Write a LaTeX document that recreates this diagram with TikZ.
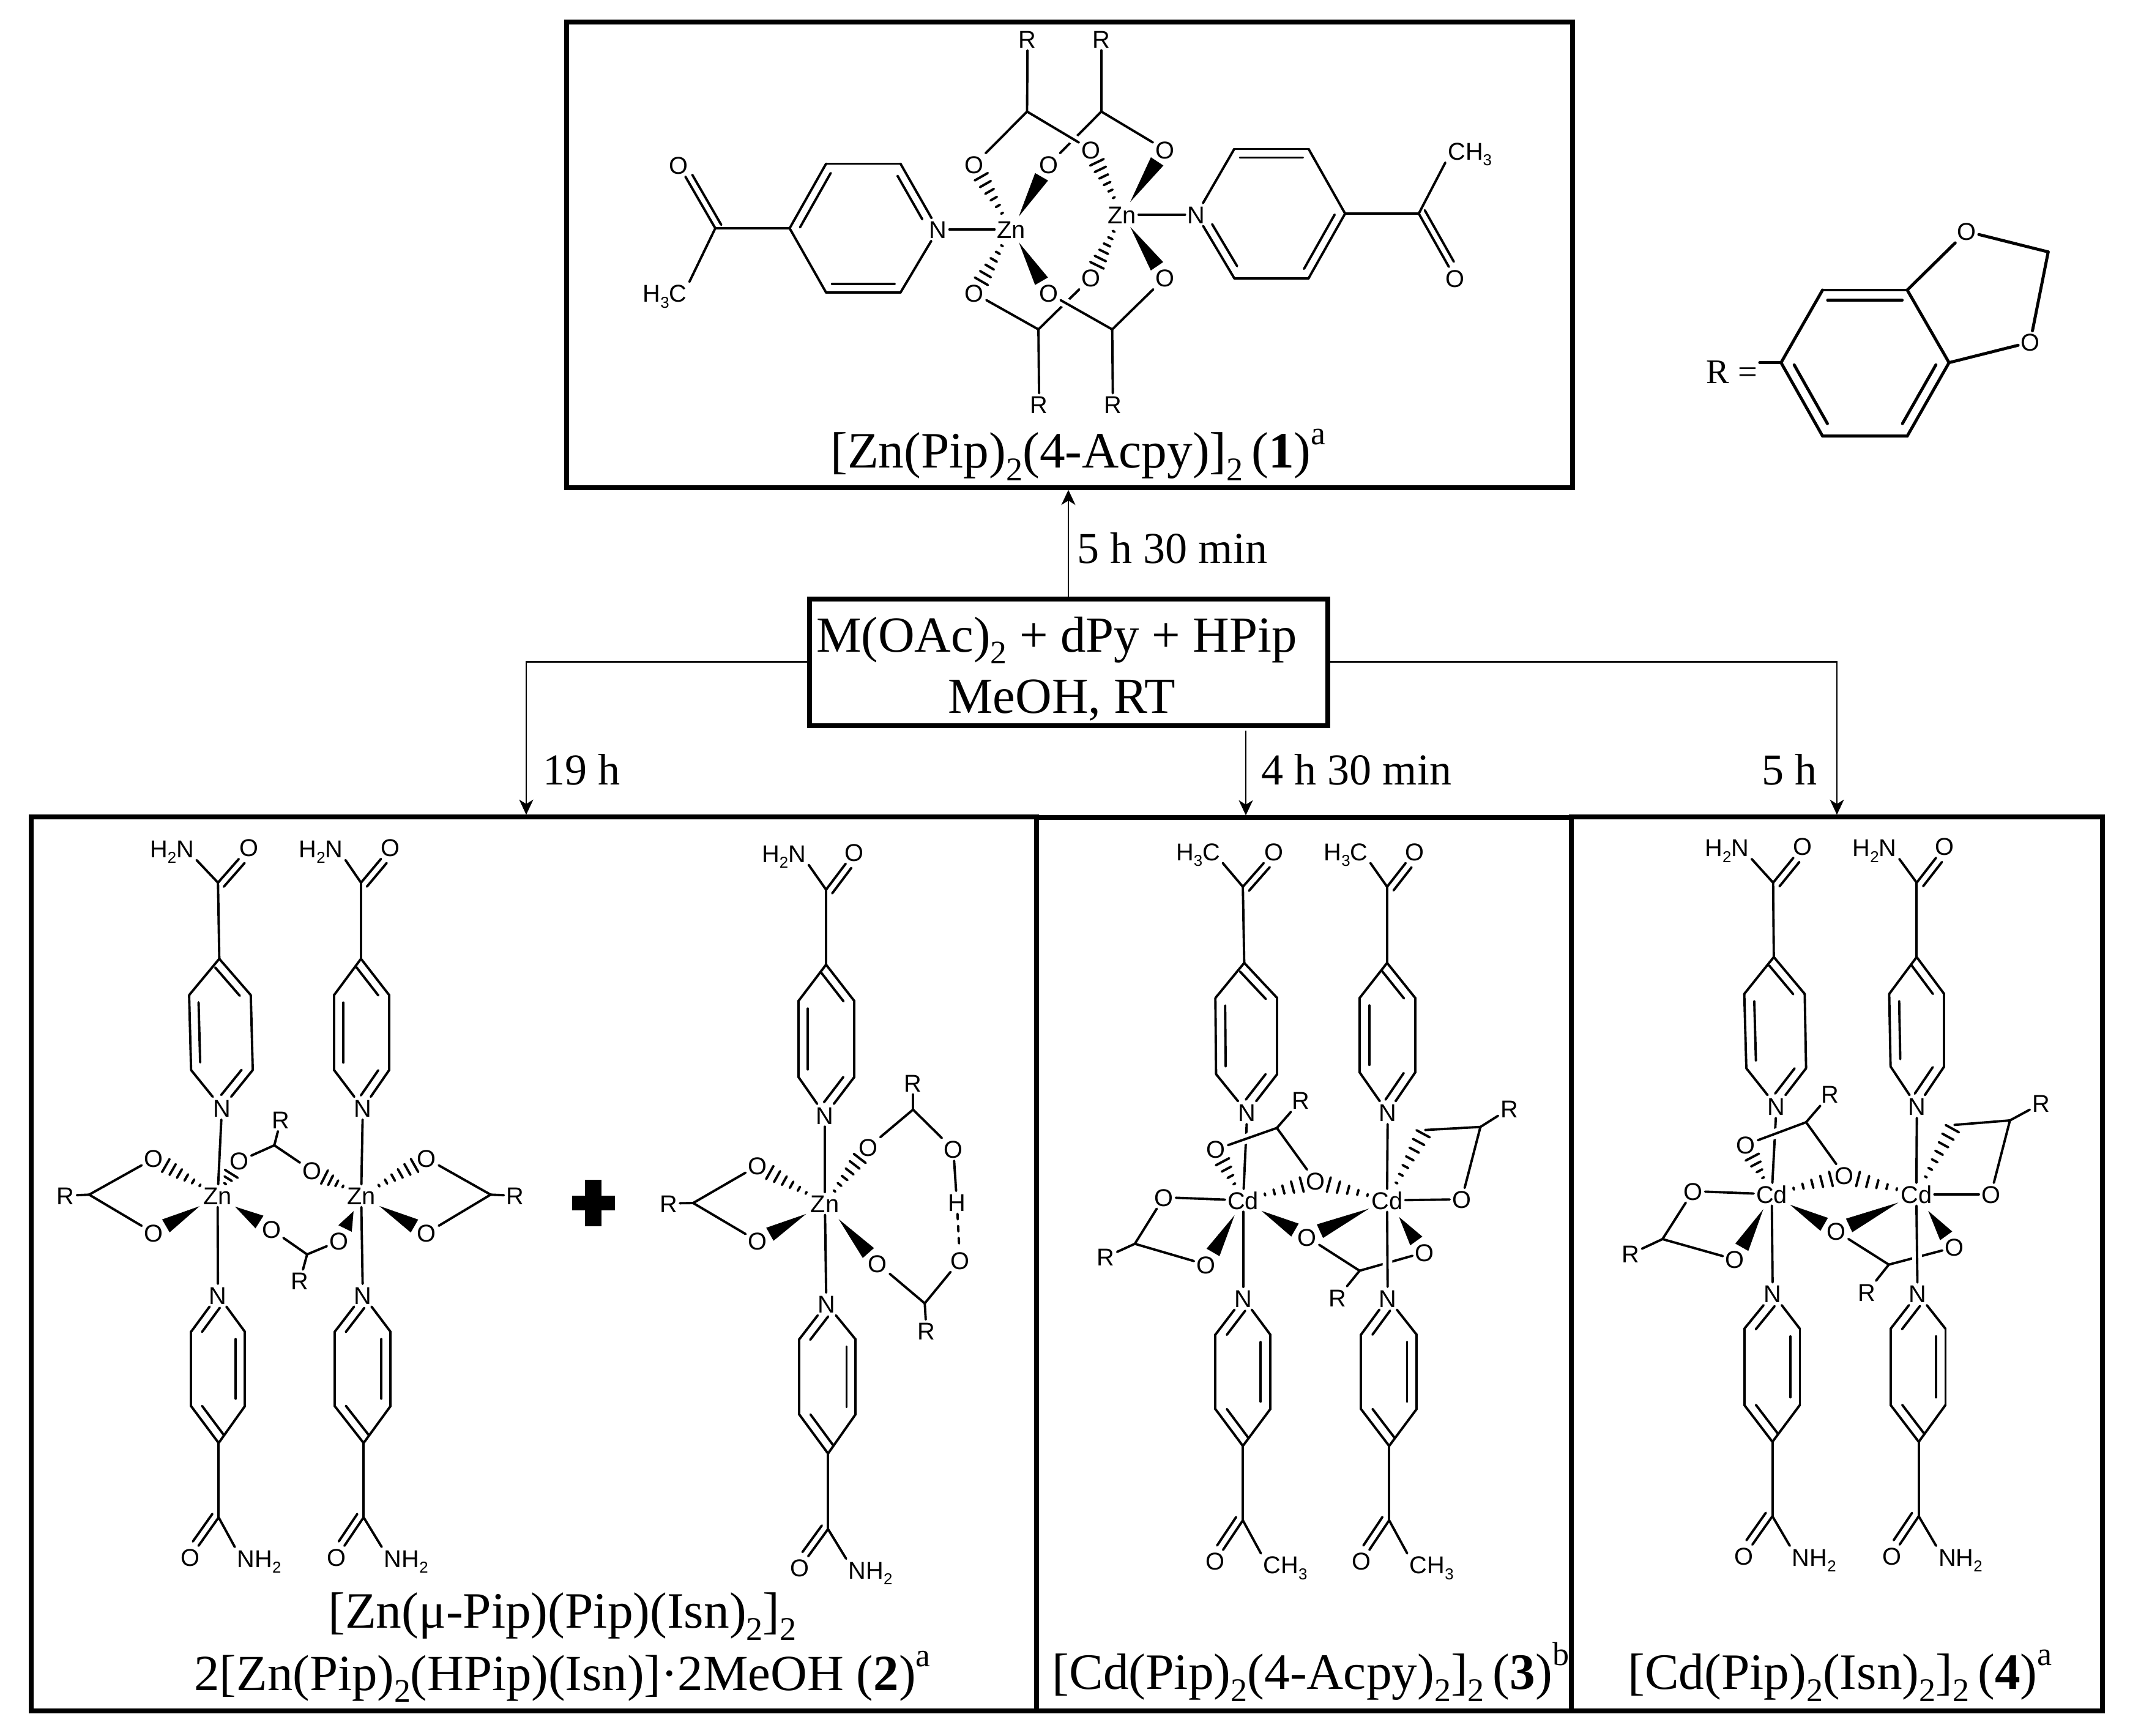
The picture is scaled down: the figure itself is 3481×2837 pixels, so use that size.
\documentclass[tikz,border=0pt]{standalone}
\usepackage{fontspec}
\usepackage{graphicx}
\setmainfont{Liberation Serif}
\newfontfamily\atomfam{Liberation Sans}
\usetikzlibrary{calc,arrows.meta}
\newcommand\lsub[1]{\raisebox{-.24em}{\scalebox{.65}{#1}}}
\newcommand\lsup[1]{\raisebox{.46em}{\scalebox{.65}{#1}}}
\newcommand\atomfont{\atomfam\fontsize{11.3}{13}\selectfont}
\newcommand\titlefont{\fontsize{23.7}{28}\selectfont}
\newcommand\flowfont{\fontsize{20.5}{24}\selectfont}
\newcommand\dblgap{4pt}
\tikzset{
  x=0.01cm,y=-0.01cm,
  zoomed/.style n args={4}{shift={(#1,#2)},xscale=#3,yscale=#4},
  bond/.style={line width=1.1pt,line cap=round},
  thickbond/.style={line width=1.4pt,line cap=round},
  atom/.style={font=\atomfont,inner sep=1pt,text height=8.2pt,text depth=0pt},
  boxframe/.style={draw,line width=2.2pt,inner sep=0pt,outer sep=0pt},
  halo/.style={white,line width=4.5pt},
  flow/.style={line width=.8pt},
  arr/.style={flow,shorten >=1pt,-{Stealth[length=7pt,width=6.5pt,inset=2pt]}},
  titletext/.style={font=\titlefont,inner sep=0pt,anchor=base},
  flowtext/.style={font=\flowfont,inner sep=0pt,anchor=base west},
}
\newcommand\atm[3]{\node[atom] (#1) at (#2) {#3};}
\newcommand\vtx[2]{\coordinate (#1) at (#2);}
\newcommand\boxnode[5]{\node[boxframe,minimum width={(#4-#2)*0.01cm},minimum height={(#5-#3)*0.01cm}] (#1) at ({(#2+#4)/2},{(#3+#5)/2}) {};}
\newcommand\bonds[1]{\foreach \p/\q in {#1}{\draw[bond] (\p) -- (\q);}}
\newcommand\halob[2]{\draw[halo] (#1) -- (#2);\draw[bond] (#1) -- (#2);}
% inner line of a double bond; a->b runs clockwise round the ring
\newcommand\innerb[4]{%
  \coordinate (ia) at ($(#3)!#1!(#4)$);
  \coordinate (ib) at ($(#3)!#2!(#4)$);
  \draw[bond] ($(ia)!\dblgap!-90:(#4)$) -- ($(ib)!\dblgap!90:(#3)$);}
% second line of C=O
\newcommand\codbl[4]{\draw[bond] ($(#1)!3.2pt!#3:(#2)$) -- ($(#2)!7.7pt!#4:(#1)$);}
% hashed bond: strokes, start gap, end gap, from, to
\newcommand\hashb[5]{%
  \coordinate (hs) at ($(#4)!#2!(#5)$);
  \coordinate (he) at ($(#5)!#3!(#4)$);
  \foreach \i in {1,...,#1}{%
    \pgfmathsetmacro\hf{(\i-1)/(#1-1)}
    \pgfmathsetmacro\hh{.5+\hf*3}
    \coordinate (hp) at ($(hs)!\hf!(he)$);
    \draw[bond] ($(hp)!\hh pt!90:(#5)$) -- ($(hp)!\hh pt!-90:(#5)$);
  }}
% wedge bond: start gap, from, to
\newcommand\wedgeb[3]{\fill ($(#2)!#1!(#3)$) -- ($(#3)!7.4pt!28:(#2)$) -- ($(#3)!7.4pt!-28:(#2)$) -- cycle;}
% pre, left group, O, C, T, UL, UR, LL, LR ; the node pre-N exists already
\newcommand\ligtop[9]{%
  \node[atom] (#1-L) at (#2) {\leftgrp};
  \node[atom] (#1-O) at (#3) {O};
  \vtx{#1-C}{#4}\vtx{#1-T}{#5}\vtx{#1-UL}{#6}\vtx{#1-UR}{#7}\vtx{#1-LL}{#8}\vtx{#1-LR}{#9}
  \draw[bond] (#1-C) -- (#1-L.south east);
  \bonds{#1-C/#1-O,#1-C/#1-T,#1-T/#1-UR,#1-UR/#1-LR,#1-LR/#1-N,#1-N/#1-LL,#1-LL/#1-UL,#1-UL/#1-T}
  \codbl{#1-C}{#1-O}{-90}{24.5}
  \innerb{.1}{.88}{#1-T}{#1-UR}
  \innerb{.1}{.9}{#1-LL}{#1-UL}
  \innerb{.12}{.78}{#1-LR}{#1-N}}
% pre, O, right group, C, B, UL, UR, LL, LR ; the node pre-N exists already
\newcommand\ligbot[9]{%
  \node[atom] (#1-O) at (#2) {O};
  \node[atom] (#1-L) at (#3) {\rightgrp};
  \vtx{#1-C}{#4}\vtx{#1-B}{#5}\vtx{#1-UL}{#6}\vtx{#1-UR}{#7}\vtx{#1-LL}{#8}\vtx{#1-LR}{#9}
  \draw[bond] (#1-C) -- (#1-L.north west);
  \bonds{#1-C/#1-O,#1-C/#1-B,#1-B/#1-LL,#1-LL/#1-UL,#1-UL/#1-N,#1-N/#1-UR,#1-UR/#1-LR,#1-LR/#1-B}
  \codbl{#1-C}{#1-O}{-90}{24.5}
  \innerb{.1}{.88}{#1-B}{#1-LL}
  \innerb{.12}{.78}{#1-UL}{#1-N}
  \innerb{.1}{.9}{#1-UR}{#1-LR}}
% the two cadmium complexes share their bonds
\newcommand\cdbonds[1]{%
  \bonds{#1-M1/#1-Na}
  \halob{#1-Oul}{#1-C1}
  \draw[bond] (#1-C3) -- (#1-Or);
  \halob{#1-M2}{#1-Nd}
  \bonds{#1-C1/#1-R1,#1-C1/#1-Om,#1-M1/#1-Nc,#1-M1/#1-Ol,#1-Ol/#1-C2,#1-C2/#1-R2,#1-C2/#1-O2,#1-Oc/#1-C3,#1-C3/#1-R3,#1-M2/#1-Nb,#1-M2/#1-Ox,#1-Ox/#1-C4,#1-C4/#1-R4,#1-C4/#1-V}
  \hashb{4}{8.7pt}{6.5pt}{#1-M1}{#1-Oul}
  \hashb{5}{10.5pt}{6.5pt}{#1-M1}{#1-Om}
  \hashb{5}{9.4pt}{6.5pt}{#1-M2}{#1-Om}
  \hashb{7}{9.2pt}{2pt}{#1-M2}{#1-V}
  \wedgeb{8pt}{#1-M1}{#1-O2}
  \wedgeb{9.8pt}{#1-M1}{#1-Oc}
  \wedgeb{9.2pt}{#1-M2}{#1-Oc}
  \wedgeb{9.5pt}{#1-M2}{#1-Or}}
\begin{document}
\begin{tikzpicture}
\useasboundingbox (0,0) rectangle (3481,2837);
% ---------- frames
\boxnode{boxA}{926}{36}{2570}{797}
\boxnode{boxB}{51}{1335}{1694}{2796}
\boxnode{boxC}{1694}{1336}{2568}{2796}
\boxnode{boxD}{2568}{1335}{3436}{2796}
\boxnode{boxM}{1323}{979}{2170}{1186}
% ---------- reaction arrows
\node[titletext,font=\fontsize{23.5}{28}\selectfont] (mline1) at (1727,1065) {M(OAc)\lsub{2} + dPy + HPip};
\node[titletext,font=\fontsize{23.5}{28}\selectfont] (mline2) at (1735,1165) {MeOH, RT};
\vtx{exU}{1746,979}\vtx{exL}{1323,1081.5}\vtx{exR}{2170,1081.5}\vtx{exD}{2036,1194}
\vtx{inB}{860,1335}\vtx{inD}{3002,1335}
\draw[arr] (exU) -- (exU |- boxA.south);
\draw[arr] (exL) -| (inB);
\draw[arr] (exR) -| (inD);
\draw[arr] (exD) -- (exD |- boxC.north);
\node[flowtext] (tA) at (1760,920) {5 h 30 min};
\node[flowtext] (tB) at (887,1282) {19 h};
\node[flowtext] (tC) at (2061,1282) {4 h 30 min};
\node[flowtext] (tD) at (2879,1282) {5 h};
% ---------- titles
\node[titletext] (lA) at (1762,765) {[Zn(Pip)\lsub{2}(4-Acpy)]\lsub{2}\,(\textbf{1})\lsup{a}};
\node[titletext] (lB1) at (919,2660) {[Zn(μ-Pip)(Pip)(Isn)\lsub{2}]\lsub{2}};
\node[titletext,font=\fontsize{23.55}{28}\selectfont] (lB2) at (919,2762) {2[Zn(Pip)\lsub{2}(HPip)(Isn)]·2MeOH (\textbf{2})\lsup{a}};
\node[titletext] (lC) at (2142,2760) {[Cd(Pip)\lsub{2}(4-Acpy)\lsub{2}]\lsub{2}\,(\textbf{3})\lsup{b}};
\node[titletext] (lD) at (3007,2760) {[Cd(Pip)\lsub{2}(Isn)\lsub{2}]\lsub{2}\,(\textbf{4})\lsup{a}};
% ---------- R group
\begin{scope}[zoomed={2750}{300}{.4464}{.3333}]
  \node[inner sep=0pt,anchor=base west,font=\fontsize{16}{18}\selectfont] (rlabel) at (85,980) {R =};
  \vtx{ra}{360,878}\vtx{rb}{512,522}\vtx{rc}{822,522}\vtx{rd}{975,878}\vtx{re}{822,1238}\vtx{rf}{512,1238}
  \vtx{rstub}{282,878}\vtx{rch}{1338,335}
  \atm{ro1}{1040,235}{O}
  \atm{ro2}{1272,778}{O}
\end{scope}
\foreach \p/\q in {ra/rb,rb/rc,rc/rd,rd/re,re/rf,rf/ra,rc/ro1,ro1/rch,rch/ro2,ro2/rd,rstub/ra}{\draw[thickbond] (\p) -- (\q);}
\begin{scope}
  \renewcommand\dblgap{4.8pt}
  \tikzset{bond/.style=thickbond}
  \innerb{.06}{.94}{rb}{rc}
  \innerb{.1}{.9}{rd}{re}
  \innerb{.1}{.9}{rf}{ra}
\end{scope}
% ---------- complex 1
\begin{scope}[zoomed={1450}{30}{.3953}{.4208}]
  \atm{a-R1}{580,80}{R}\atm{a-R2}{885,80}{R}\atm{a-R3}{628,1500}{R}\atm{a-R4}{933,1500}{R}
  \vtx{a-C1}{578,362}\vtx{a-C2}{885,362}\vtx{a-C3}{625,1208}\vtx{a-C4}{930,1208}
  \atm{a-Oa}{360,568}{O}\atm{a-Ob}{667,568}{O}\atm{a-Oc}{842,510}{O}\atm{a-Od}{1148,510}{O}
  \atm{a-Oe}{360,1068}{O}\atm{a-Of}{667,1068}{O}\atm{a-Og}{842,1008}{O}\atm{a-Oh}{1148,1008}{O}
  \atm{a-M1}{513,820}{Zn}\atm{a-M2}{970,762}{Zn}
  \atm{a-N1}{210,820}{N}\atm{a-N2}{1278,762}{N}
\end{scope}
\bonds{a-C2/a-Ob}
\halob{a-C1}{a-Oc}
\bonds{a-C3/a-Og}
\halob{a-Of}{a-C4}
\bonds{a-R1/a-C1,a-R2/a-C2,a-R3/a-C3,a-R4/a-C4,a-C1/a-Oa,a-C2/a-Od,a-Oe/a-C3,a-C4/a-Oh,a-N1/a-M1,a-M2/a-N2}
\hashb{6}{8.7pt}{6.5pt}{a-M1}{a-Oa}
\hashb{6}{8.7pt}{6.5pt}{a-M1}{a-Oe}
\hashb{6}{8.7pt}{6.5pt}{a-M2}{a-Oc}
\hashb{6}{8.7pt}{6.5pt}{a-M2}{a-Og}
\wedgeb{7pt}{a-M1}{a-Ob}
\wedgeb{7pt}{a-M1}{a-Of}
\wedgeb{7pt}{a-M2}{a-Od}
\wedgeb{7pt}{a-M2}{a-Oh}
\begin{scope}[zoomed={900}{20}{1.0846}{.5102}]
  \vtx{l-UR}{527,485}\vtx{l-UL}{415,485}\vtx{l-W}{360,692}\vtx{l-LL}{415,898}\vtx{l-LR}{527,898}\vtx{l-C}{248,692}
  \atm{l-O}{193,490}{O}
  \atm{l-Me}{172,900}{H\lsub{3}C}
  \vtx{r-UL}{1030,438}\vtx{r-UR}{1142,438}\vtx{r-E}{1197,645}\vtx{r-LR}{1142,852}\vtx{r-LL}{1030,852}\vtx{r-C}{1308,645}
  \atm{r-O}{1363,852}{O}
  \atm{r-Me}{1385,445}{CH\lsub{3}}
\end{scope}
\bonds{a-N1/l-UR,l-UR/l-UL,l-UL/l-W,l-W/l-LL,l-LL/l-LR,l-LR/a-N1,l-W/l-C,l-C/l-O}
\draw[bond] (l-C) -- (l-Me.north east);
\codbl{l-C}{l-O}{-90}{24.5}
\innerb{.12}{.78}{l-UR}{a-N1}
\innerb{.08}{.92}{l-W}{l-UL}
\innerb{.08}{.92}{l-LR}{l-LL}
\bonds{a-N2/r-UL,r-UL/r-UR,r-UR/r-E,r-E/r-LR,r-LR/r-LL,r-LL/a-N2,r-E/r-C,r-C/r-O}
\draw[bond] (r-C) -- (r-Me.south west);
\codbl{r-C}{r-O}{90}{-24.5}
\innerb{.08}{.92}{r-UL}{r-UR}
\innerb{.08}{.92}{r-E}{r-LR}
\innerb{.12}{.78}{r-LL}{a-N2}
% ---------- complex 2, dimer
\begin{scope}[zoomed={60}{1750}{.5356}{.3333}]
  \atm{b1-N}{565,183}{N}\atm{b2-N}{995,183}{N}\atm{b3-N}{553,1100}{N}\atm{b4-N}{995,1100}{N}
  \atm{b-M1}{552,612}{Zn}\atm{b-M2}{990,612}{Zn}
  \atm{b-R1}{88,612}{R}\vtx{b-C1}{160,607}\atm{b-O1}{357,430}{O}\atm{b-O2}{357,795}{O}
  \atm{b-R2}{745,240}{R}\vtx{b-C2}{725,365}\atm{b-O3}{618,442}{O}\atm{b-O4}{840,490}{O}
  \atm{b-O5}{716,778}{O}\vtx{b-C3}{825,900}\atm{b-O6}{922,835}{O}\atm{b-R3}{803,1030}{R}
  \atm{b-O7}{1190,430}{O}\atm{b-O8}{1190,795}{O}\vtx{b-C4}{1385,607}\atm{b-R4}{1460,612}{R}
\end{scope}
\bonds{b1-N/b-M1,b2-N/b-M2,b3-N/b-M1,b4-N/b-M2,b-R1/b-C1,b-C1/b-O1,b-C1/b-O2,b-R2/b-C2,b-C2/b-O3,b-C2/b-O4,b-O5/b-C3,b-C3/b-O6,b-C3/b-R3,b-O7/b-C4,b-O8/b-C4,b-C4/b-R4}
\hashb{6}{9.5pt}{6.5pt}{b-M1}{b-O1}
\hashb{3}{6.6pt}{7pt}{b-M1}{b-O3}
\hashb{4}{9.5pt}{6.5pt}{b-M2}{b-O4}
\hashb{6}{9.5pt}{6.5pt}{b-M2}{b-O7}
\wedgeb{9.7pt}{b-M1}{b-O2}
\wedgeb{9.6pt}{b-M1}{b-O5}
\wedgeb{8pt}{b-M2}{b-O6}
\wedgeb{9.7pt}{b-M2}{b-O8}
% ---------- complex 2, monomer
\begin{scope}[zoomed={1060}{1750}{.3831}{.3333}]
  \atm{b5-N}{752,218}{N}\atm{b6-N}{758,1143}{N}\atm{c-M}{752,650}{Zn}
  \atm{c-R1}{85,650}{R}\vtx{c-C1}{190,648}\atm{c-O1}{465,465}{O}\atm{c-O2}{465,835}{O}
  \atm{c-O3}{937,375}{O}\vtx{c-C2}{1128,190}\atm{c-R2}{1128,60}{R}\atm{c-O4}{1300,385}{O}
  \atm{c-H}{1315,645}{H}\atm{c-O5}{1328,930}{O}\atm{c-O6}{977,945}{O}
  \vtx{c-C3}{1178,1140}\atm{c-R3}{1185,1275}{R}
\end{scope}
\bonds{b5-N/c-M,b6-N/c-M,c-R1/c-C1,c-C1/c-O1,c-C1/c-O2,c-O3/c-C2,c-C2/c-R2,c-C2/c-O4,c-O4/c-H,c-O6/c-C3,c-C3/c-O5,c-C3/c-R3}
\draw[bond,dash pattern=on 2.6pt off 3pt] (c-H) -- (c-O5);
\hashb{6}{10pt}{6.5pt}{c-M}{c-O1}
\hashb{6}{7.3pt}{6.5pt}{c-M}{c-O3}
\wedgeb{10pt}{c-M}{c-O2}
\wedgeb{9.7pt}{c-M}{c-O6}
\begin{scope}[zoomed={40}{1320}{1.0718}{.9569}]
  \def\leftgrp{H\lsub{2}N}\def\rightgrp{NH\lsub{2}}
  \ligtop{b1}{225,70}{342,68}{295,128}{297,258}{251,320}{345,320}{254,448}{348,448}
  \ligtop{b2}{452,70}{558,68}{513,128}{513,258}{472,320}{556,320}{472,448}{556,448}
  \ligtop{b5}{1158,78}{1265,76}{1222,140}{1222,268}{1180,330}{1265,330}{1180,460}{1265,460}
  \ligbot{b3}{253,1280}{358,1282}{296,1212}{296,1085}{254,895}{336,895}{254,1022}{336,1022}
  \ligbot{b4}{476,1280}{582,1282}{517,1212}{517,1085}{473,895}{558,895}{473,1022}{558,1022}
  \ligbot{b6}{1182,1298}{1290,1302}{1225,1232}{1225,1103}{1181,908}{1267,908}{1181,1036}{1267,1036}
  \fill (835,663) rectangle (900,688);
  \fill (855,635) rectangle (880,715);
\end{scope}
% ---------- complex 3
\begin{scope}[zoomed={1750}{1700}{.5102}{.3333}]
  \atm{d1-N}{565,355}{N}\atm{d2-N}{1015,355}{N}\atm{d3-N}{552,1265}{N}\atm{d4-N}{1015,1265}{N}
  \atm{d-M1}{552,785}{Cd}\atm{d-M2}{1013,785}{Cd}
  \atm{d-Oul}{465,535}{O}\vtx{d-C1}{660,430}\atm{d-R1}{737,295}{R}\atm{d-Om}{783,690}{O}
  \atm{d-Ol}{298,770}{O}\vtx{d-C2}{205,998}\atm{d-R2}{112,1063}{R}\atm{d-O2}{433,1100}{O}
  \atm{d-Oc}{757,965}{O}\vtx{d-C3}{925,1130}\atm{d-R3}{855,1262}{R}\atm{d-Or}{1133,1040}{O}
  \atm{d-Ox}{1252,780}{O}\vtx{d-C4}{1312,425}\atm{d-R4}{1405,335}{R}\vtx{d-V}{1135,440}
\end{scope}
% ---------- complex 4
\begin{scope}[zoomed={2620}{1750}{.5102}{.3333}]
  \atm{e1-N}{555,175}{N}\atm{e2-N}{1005,175}{N}\atm{e3-N}{543,1093}{N}\atm{e4-N}{1007,1093}{N}
  \atm{e-M1}{540,605}{Cd}\atm{e-M2}{1003,605}{Cd}
  \atm{e-Oul}{457,362}{O}\vtx{e-C1}{650,252}\atm{e-R1}{727,115}{R}\atm{e-Om}{773,513}{O}
  \atm{e-Ol}{288,590}{O}\vtx{e-C2}{190,825}\atm{e-R2}{88,898}{R}\atm{e-O2}{422,925}{O}
  \atm{e-Oc}{747,787}{O}\vtx{e-C3}{915,950}\atm{e-R3}{845,1085}{R}\atm{e-Or}{1125,865}{O}
  \atm{e-Ox}{1242,605}{O}\vtx{e-C4}{1303,243}\atm{e-R4}{1403,160}{R}\vtx{e-V}{1125,265}
\end{scope}
\begin{scope}[zoomed={1700}{1320}{1.1223}{.9569}]
  \def\leftgrp{H\lsub{3}C}\def\rightgrp{CH\lsub{3}}
  \ligtop{d1}{230,75}{340,75}{295,135}{297,265}{255,325}{345,325}{256,455}{345,455}
  \ligtop{d2}{445,75}{545,75}{505,135}{505,265}{465,325}{546,325}{465,452}{546,452}
  \ligbot{d3}{255,1287}{357,1293}{295,1217}{295,1090}{255,900}{335,900}{255,1027}{335,1027}
  \ligbot{d4}{468,1287}{570,1293}{508,1217}{508,1090}{467,900}{548,900}{467,1027}{548,1027}
  \def\leftgrp{H\lsub{2}N}\def\rightgrp{NH\lsub{2}}
  \ligtop{e1}{1000,68}{1110,66}{1067,128}{1068,255}{1025,318}{1113,318}{1028,445}{1115,445}
  \ligtop{e2}{1215,68}{1317,66}{1276,128}{1276,255}{1236,318}{1316,318}{1238,442}{1316,442}
  \ligbot{e3}{1025,1278}{1127,1280}{1066,1210}{1066,1083}{1025,890}{1106,890}{1025,1020}{1106,1020}
  \ligbot{e4}{1240,1278}{1340,1280}{1279,1210}{1279,1083}{1238,890}{1318,890}{1238,1020}{1318,1020}
\end{scope}
% metal-to-ligand names for the shared bond macro
\pgfnodealias{d-Na}{d1-N}\pgfnodealias{d-Nb}{d2-N}\pgfnodealias{d-Nc}{d3-N}\pgfnodealias{d-Nd}{d4-N}
\pgfnodealias{e-Na}{e1-N}\pgfnodealias{e-Nb}{e2-N}\pgfnodealias{e-Nc}{e3-N}\pgfnodealias{e-Nd}{e4-N}
\cdbonds{d}
\cdbonds{e}
\end{tikzpicture}
\end{document}
